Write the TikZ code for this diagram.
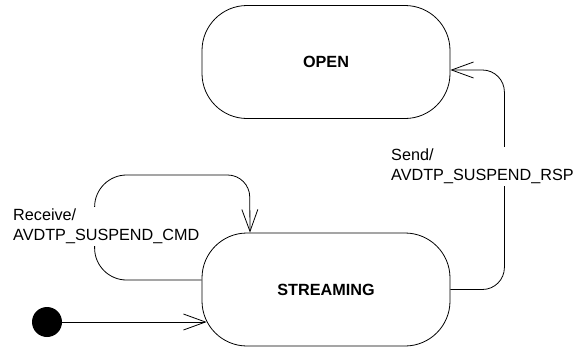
\documentclass[tikz,border=0pt]{standalone}
\usepackage{fontspec}
\setmainfont{Liberation Sans}
\usetikzlibrary{arrows.meta,calc}
\begin{document}
\begin{tikzpicture}[x=1pt,y=-1pt,
  state/.style={draw, line width=0.8pt, rounded corners=45pt, minimum width=248pt, minimum height=113pt, font=\fontsize{16.2}{19}\selectfont\bfseries, inner sep=0pt},
  lbl/.style={fill=white, align=left, inner sep=2pt, font=\fontsize{16.2}{19.5}\selectfont, anchor=north west},
  trans/.style={draw, line width=0.8pt, -{Straight Barb[length=22pt,width=16pt]}},
]
\useasboundingbox (0,0) rectangle (577,351);
\node[state] (open) at (326,62) {OPEN};
\node[state] (stream) at (326,289.5) {STREAMING};
\node[circle, fill, inner sep=0pt, minimum size=30pt] (init) at (47,322) {};
\coordinate (initend) at ($(init -| stream.west)+(5,0)$);
\draw[trans] (init) -- (initend);
\draw[trans, rounded corners=32pt] ([yshift=9.5pt]stream.west) -- ++(-107,0) -- ++(0,-105) [rounded corners=22pt] -- ++(155,0) -- ([xshift=-76pt]stream.north);
\draw[trans, rounded corners=22pt] (stream.east) -- ++(54,0) -- ++(0,-219.5) -- ([yshift=-8pt]open.east);
\node[lbl] (recv) at (11,207) {Receive/\\AVDTP\_SUSPEND\_CMD};
\node[lbl] (send) at (389,147) {Send/\\AVDTP\_SUSPEND\_RSP};
\end{tikzpicture}
\end{document}
